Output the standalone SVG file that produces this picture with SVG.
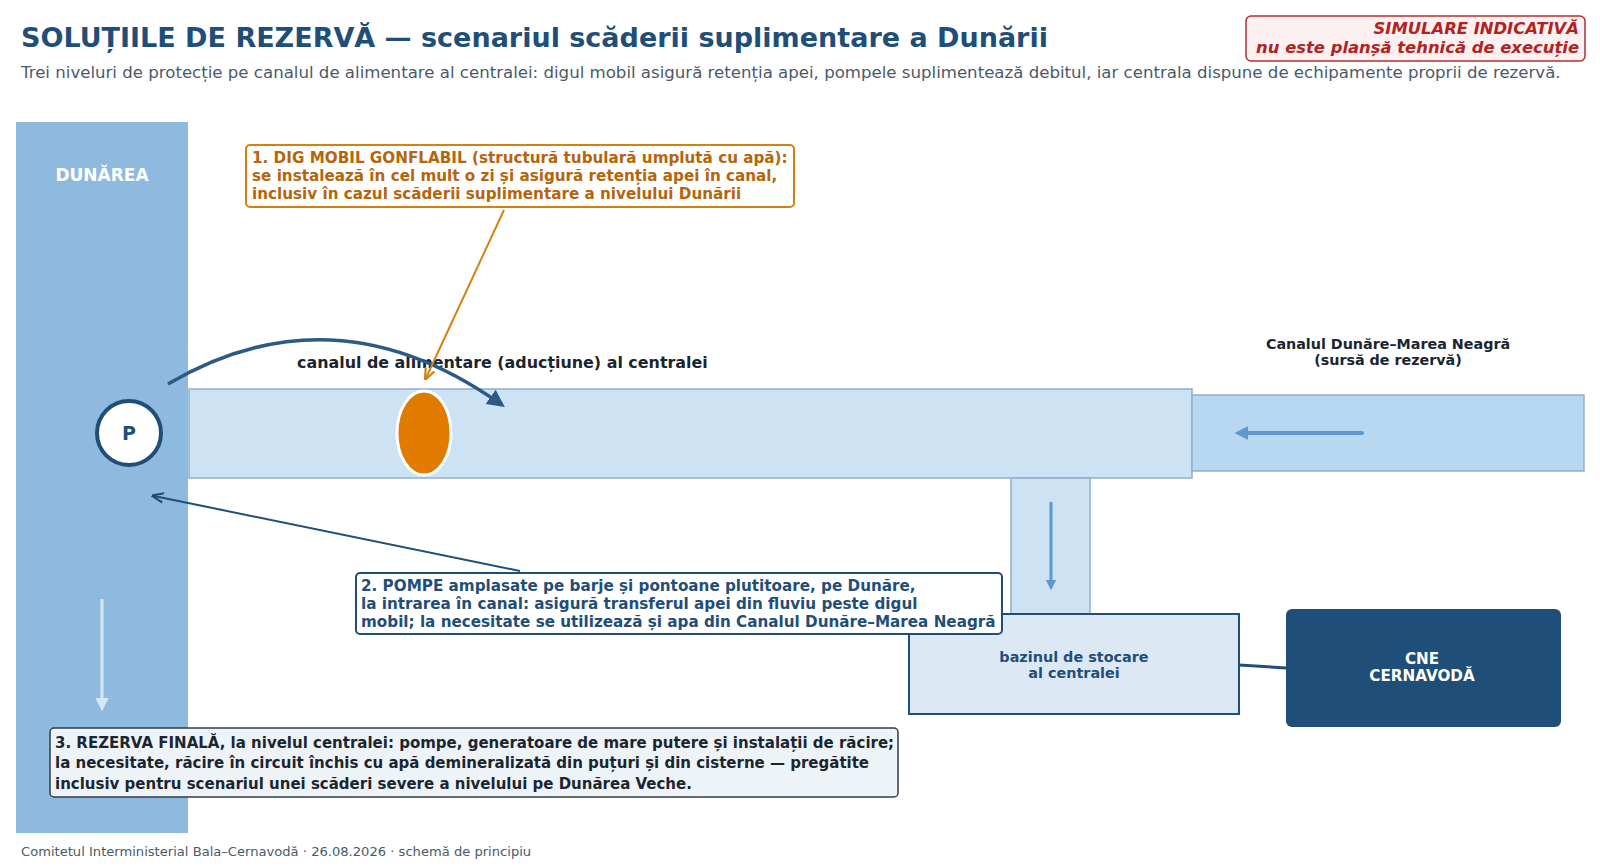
<svg xmlns="http://www.w3.org/2000/svg" width="1600" height="868" viewBox="0 0 1600 868">
<defs>
<style>
text{font-family:"DejaVu Sans","Liberation Sans",sans-serif;}
.b{font-weight:bold;}
.title{font-size:27px;font-weight:bold;fill:#1f4e79;}
.sub{font-size:16.6px;fill:#4a5a6a;}
.warn{font-size:16.4px;font-weight:bold;font-style:italic;fill:#b22222;text-anchor:end;}
.c1{font-size:15.2px;font-weight:bold;fill:#b5650a;}
.c2{font-size:15.2px;font-weight:bold;fill:#1f4e79;}
.c3{font-size:15px;font-weight:bold;fill:#1a2530;}
.lbl{font-size:15.9px;font-weight:bold;fill:#1a2530;}
.lbls{font-size:14.3px;font-weight:bold;fill:#1a2530;text-anchor:middle;}
.canal{fill:#cde2f3;stroke:#8fb0cf;stroke-width:1.5;}
</style>
<marker id="aDark" viewBox="0 0 10 10" refX="8" refY="5" markerWidth="5" markerHeight="5" orient="auto"><path d="M0,0 L10,5 L0,10 z" fill="#2c5a85"/></marker>
<marker id="aNavy" viewBox="0 0 10 10" refX="8" refY="5" markerWidth="6" markerHeight="6" orient="auto"><path d="M0,1 L10,5 L0,9" fill="none" stroke="#1f4e79" stroke-width="1.8"/></marker>
<marker id="aOr" viewBox="0 0 10 10" refX="8" refY="5" markerWidth="6" markerHeight="6" orient="auto"><path d="M0,1 L10,5 L0,9" fill="none" stroke="#d4820f" stroke-width="1.8"/></marker>
<marker id="aBlue" viewBox="0 0 10 10" refX="6" refY="5" markerWidth="3.5" markerHeight="3.5" orient="auto"><path d="M0,0 L10,5 L0,10 z" fill="#5f98cc"/></marker>
<marker id="aLight" viewBox="0 0 10 10" refX="6" refY="5" markerWidth="4.5" markerHeight="4.5" orient="auto"><path d="M0,0 L10,5 L0,10 z" fill="#d6e7f6"/></marker>
</defs>
<rect width="1600" height="868" fill="#ffffff"/>

<text class="title" x="21" y="47">SOLUȚIILE DE REZERVĂ — scenariul scăderii suplimentare a Dunării</text>
<text class="sub" x="21" y="78">Trei niveluri de protecție pe canalul de alimentare al centralei: digul mobil asigură retenția apei, pompele suplimentează debitul, iar centrala dispune de echipamente proprii de rezervă.</text>

<g id="warning">
<rect x="1246" y="16" width="339" height="45" rx="5" fill="#fdf0f0" stroke="#b03030" stroke-width="1.5"/>
<text class="warn" x="1579" y="34">SIMULARE INDICATIVĂ</text>
<text class="warn" x="1579" y="53">nu este planșă tehnică de execuție</text>
</g>

<g id="dunarea">
<rect x="16" y="122" width="172" height="711" fill="#8fbadf"/>
<text x="102" y="181" font-size="17" class="b" fill="#ffffff" text-anchor="middle">DUNĂREA</text>
<line x1="102" y1="599" x2="102" y2="706" stroke="#d6e7f6" stroke-width="3" marker-end="url(#aLight)"/>
</g>

<g id="canal-alimentare">
<rect class="canal" x="189" y="389" width="1003" height="89"/>
<text class="lbl" x="297" y="368">canalul de alimentare (aducțiune) al centralei</text>
</g>

<g id="canal-dmn">
<rect x="1192" y="395" width="392" height="76" fill="#b8d7f0" stroke="#8fb0cf" stroke-width="1.5"/>
<line x1="1362" y1="433" x2="1240" y2="433" stroke="#5f98cc" stroke-width="4" stroke-linecap="round" marker-end="url(#aBlue)"/>
<text class="lbls" x="1388" y="349">Canalul Dunăre–Marea Neagră</text>
<text class="lbls" x="1388" y="365">(sursă de rezervă)</text>
</g>

<g id="ramificatie">
<rect class="canal" x="1011" y="478" width="79" height="136"/>
<line x1="1051" y1="503" x2="1051" y2="586" stroke="#5f98cc" stroke-width="3" stroke-linecap="round" marker-end="url(#aBlue)"/>
</g>

<g id="bazin">
<rect x="909" y="614" width="330" height="100" fill="#dce9f5" stroke="#1f4e79" stroke-width="2"/>
<text x="1074" y="662" font-size="14.4" class="b" fill="#1f4e79" text-anchor="middle">bazinul de stocare</text>
<text x="1074" y="678" font-size="14.4" class="b" fill="#1f4e79" text-anchor="middle">al centralei</text>
</g>

<g id="cne">
<rect x="1286" y="609" width="275" height="118" rx="6" fill="#1f4e79"/>
<text x="1422" y="664" font-size="15.2" class="b" fill="#ffffff" text-anchor="middle">CNE</text>
<text x="1422" y="681" font-size="15.2" class="b" fill="#ffffff" text-anchor="middle">CERNAVODĂ</text>
</g>

<g id="pompa">
<circle cx="129" cy="433" r="32" fill="#ffffff" stroke="#1f4e79" stroke-width="4"/>
<text x="129" y="440" font-size="19" class="b" fill="#1f4e79" text-anchor="middle">P</text>
</g>

<g id="dig">
<ellipse cx="424" cy="433" rx="27" ry="42" fill="#e07b00" stroke="#ffffff" stroke-width="3"/>
</g>

<g id="connectors">
<path d="M168,384 Q335,286 502,405" fill="none" stroke="#2c5a85" stroke-width="3.5" marker-end="url(#aDark)"/>
<line x1="504" y1="210" x2="426" y2="378" stroke="#d4820f" stroke-width="2" marker-end="url(#aOr)"/>
<line x1="520" y1="571" x2="154" y2="496" stroke="#1f4e79" stroke-width="2" marker-end="url(#aNavy)"/>
<line x1="1239" y1="665" x2="1286" y2="668" stroke="#1f4e79" stroke-width="3"/>
</g>

<g id="nota1">
<rect x="246" y="145" width="548" height="62" rx="4" fill="#ffffff" stroke="#d4820f" stroke-width="2"/>
<text class="c1" x="252" y="163">1. DIG MOBIL GONFLABIL (structură tubulară umplută cu apă):</text>
<text class="c1" x="252" y="181">se instalează în cel mult o zi și asigură retenția apei în canal,</text>
<text class="c1" x="252" y="199">inclusiv în cazul scăderii suplimentare a nivelului Dunării</text>
</g>

<g id="nota2">
<rect x="356" y="573" width="646" height="61" rx="4" fill="#ffffff" stroke="#1f4e79" stroke-width="2"/>
<text class="c2" x="361" y="591">2. POMPE amplasate pe barje și pontoane plutitoare, pe Dunăre,</text>
<text class="c2" x="361" y="609">la intrarea în canal: asigură transferul apei din fluviu peste digul</text>
<text class="c2" x="361" y="627">mobil; la necesitate se utilizează și apa din Canalul Dunăre–Marea Neagră</text>
</g>

<g id="nota3">
<rect x="50" y="728" width="848" height="69" rx="4" fill="#eef3f8" stroke="#333d48" stroke-width="1.5"/>
<text class="c3" x="55" y="748">3. REZERVA FINALĂ, la nivelul centralei: pompe, generatoare de mare putere și instalații de răcire;</text>
<text class="c3" x="55" y="768">la necesitate, răcire în circuit închis cu apă demineralizată din puțuri și din cisterne — pregătite</text>
<text class="c3" x="55" y="789">inclusiv pentru scenariul unei scăderi severe a nivelului pe Dunărea Veche.</text>
</g>

<text x="21" y="856" font-size="13.1" fill="#4a5a6a">Comitetul Interministerial Bala–Cernavodă · 26.08.2026 · schemă de principiu</text>
</svg>
